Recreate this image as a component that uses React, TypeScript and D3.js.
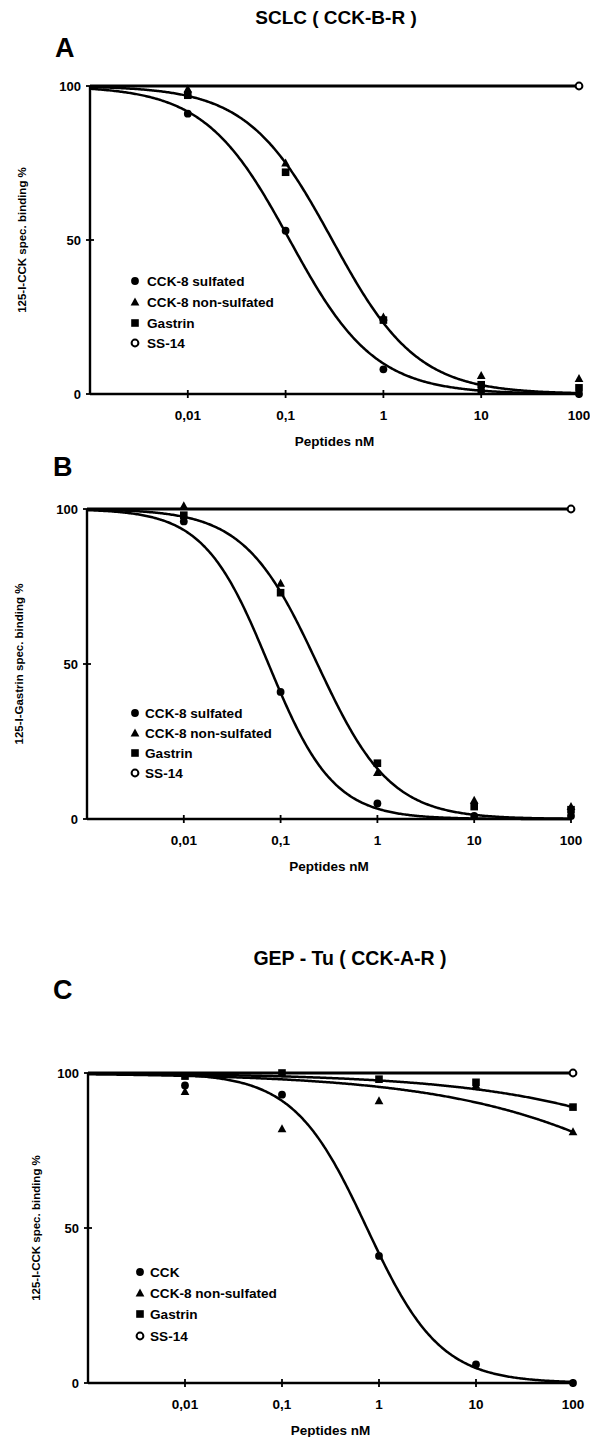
import React from "react";
import * as d3 from "d3";

// ---------- data ----------
const concentrations = [0.01, 0.1, 1, 10, 100];
const xTickValues = [0.01, 0.1, 1, 10, 100];
const xTickLabels = ["0,01", "0,1", "1", "10", "100"];
const yTickValues = [0, 50, 100];

// Panel A: SCLC (CCK-B-R)
const aCck8Sulfated = [91, 53, 8, 1, 0];
const aCck8NonSulfated = [99, 75, 25, 6, 5];
const aGastrin = [97, 72, 24, 3, 2];
const aSs14Conc = [100];
const aSs14 = [100];
// fitted curves: [IC50 nM, hill]
const aFitSulfated = [0.11, 1.0];
const aFitNonSulfated = [0.3, 1.0];

// Panel B: SCLC (CCK-B-R), 125-I-Gastrin
const bCck8Sulfated = [96, 41, 5, 1, 1];
const bCck8NonSulfated = [101, 76, 15, 6, 4];
const bGastrin = [98, 73, 18, 4, 3];
const bSs14Conc = [100];
const bSs14 = [100];
const bFitSulfated = [0.075, 1.3];
const bFitNonSulfated = [0.24, 1.15];

// Panel C: GEP-Tu (CCK-A-R)
const cCck = [96, 93, 41, 6, 0];
const cCck8NonSulfated = [94, 82, 91, 96, 81];
const cGastrin = [99, 100, 98, 97, 89];
const cSs14Conc = [100];
const cSs14 = [100];
const cFitCck = [0.75, 1.15];
const cFitNonSulfated = [6260, 0.35];
const cFitGastrin = [39200, 0.35];

const legendAB = ["CCK-8 sulfated", "CCK-8 non-sulfated", "Gastrin", "SS-14"];
const legendC = ["CCK", "CCK-8 non-sulfated", "Gastrin", "SS-14"];

const FONT = "'Liberation Sans', Arial, Helvetica, sans-serif";

type Series = { shape: string; conc: number[]; values: number[] };

function hill(x: number, fit: number[]) {
  return 100 / (1 + Math.pow(x / fit[0], fit[1]));
}

function Marker({ shape, x, y }: { shape: string; x: number; y: number }) {
  if (shape === "circle") return <circle cx={x} cy={y} r={3.9} fill="#000" />;
  if (shape === "open") return <circle cx={x} cy={y} r={3.4} fill="#fff" stroke="#000" strokeWidth={2} />;
  if (shape === "square") return <rect x={x - 3.8} y={y - 3.8} width={7.6} height={7.6} fill="#000" />;
  const s = 4.6;
  return <path d={`M${x},${y - s}L${x + s * 0.95},${y + s * 0.75}L${x - s * 0.95},${y + s * 0.75}Z`} fill="#000" />;
}

function Panel(props: {
  x0: number; x1: number; yTop: number; yBottom: number;
  yLabel: string; yLabelX: number;
  fits: number[][]; series: Series[];
  legend: string[]; legendX: number; legendTextX: number; legendRows: number[];
}) {
  const { x0, x1, yTop, yBottom } = props;
  const x = d3.scaleLog().domain([0.001, 100]).range([x0, x1]);
  const y = d3.scaleLinear().domain([0, 100]).range([yBottom, yTop]);
  const xs = d3.range(0, 401).map((i) => Math.pow(10, -3 + (5 * i) / 400));
  const curves = props.fits.map((f) =>
    d3.line<number>().x((d) => x(d)).y((d) => y(hill(d, f)))(xs) as string
  );
  const flat = d3.line<number>().x((d) => x(d)).y(() => y(100))([0.001, 100]) as string;
  const shapes = ["circle", "triangle", "square", "open"];
  const midY = (yTop + yBottom) / 2;
  return (
    <g>
      <line x1={x0} x2={x0} y1={yTop} y2={yBottom} stroke="#000" strokeWidth={2.4} />
      <line x1={x0} x2={x1} y1={yBottom} y2={yBottom} stroke="#000" strokeWidth={2.4} />
      {yTickValues.map((t) => (
        <g key={"y" + t}>
          <line x1={x0 - 4} x2={x0 + 4} y1={y(t)} y2={y(t)} stroke="#000" strokeWidth={1.8} />
          <text x={x0 - 9} y={y(t) + 4.5} textAnchor="end" fontSize={13} fontWeight="bold" fontFamily={FONT}>{t}</text>
        </g>
      ))}
      {xTickValues.map((t, i) => (
        <g key={"x" + t}>
          <line x1={x(t)} x2={x(t)} y1={yBottom - 4} y2={yBottom + 4} stroke="#000" strokeWidth={1.8} />
          <text x={x(t)} y={yBottom + 26} textAnchor="middle" fontSize={13.5} fontWeight="bold" fontFamily={FONT}>{xTickLabels[i]}</text>
        </g>
      ))}
      <text x={(x0 + x1) / 2} y={yBottom + 52} textAnchor="middle" fontSize={13.5} fontWeight="bold" fontFamily={FONT}>Peptides nM</text>
      <text transform={`translate(${props.yLabelX},${midY}) rotate(-90)`} textAnchor="middle" dy="0.35em" fontSize={11.5} fontWeight="bold" fontFamily={FONT}>{props.yLabel}</text>
      <path d={flat} stroke="#000" strokeWidth={2.8} fill="none" />
      {curves.map((c, i) => (
        <path key={"c" + i} d={c} stroke="#000" strokeWidth={2.5} fill="none" />
      ))}
      {props.series.map((s, si) =>
        s.values.map((v, i) => <Marker key={si + "-" + i} shape={s.shape} x={x(s.conc[i])} y={y(v)} />)
      )}
      {props.legend.map((name, i) => (
        <g key={"l" + i}>
          <Marker shape={shapes[i]} x={props.legendX} y={props.legendRows[i]} />
          <text x={props.legendTextX} y={props.legendRows[i] + 4.6} fontSize={13.6} fontWeight="bold" fontFamily={FONT}>{name}</text>
        </g>
      ))}
    </g>
  );
}

export default function App() {
  return (
    <div style={{ position: "absolute", left: 0, top: 0 }}>
      <svg width={590} height={1437} viewBox="0 0 590 1437" style={{ display: "block", background: "#fff" }}>
        <rect x={0} y={0} width={590} height={1437} fill="#fff" />
        <text x={336} y={24} textAnchor="middle" fontSize={19} fontWeight="bold" fontFamily={FONT}>SCLC ( CCK-B-R )</text>
        <text x={55} y={57} fontSize={27} fontWeight="bold" fontFamily={FONT}>A</text>
        <Panel
          x0={90} x1={579} yTop={86} yBottom={394}
          yLabel="125-I-CCK spec. binding %" yLabelX={22}
          fits={[aFitSulfated, aFitNonSulfated]}
          series={[
            { shape: "triangle", conc: concentrations, values: aCck8NonSulfated },
            { shape: "square", conc: concentrations, values: aGastrin },
            { shape: "circle", conc: concentrations, values: aCck8Sulfated },
            { shape: "open", conc: aSs14Conc, values: aSs14 },
          ]}
          legend={legendAB} legendX={135} legendTextX={147} legendRows={[281, 302, 323, 343]}
        />
        <text x={53} y={476} fontSize={27} fontWeight="bold" fontFamily={FONT}>B</text>
        <Panel
          x0={87} x1={571} yTop={509} yBottom={819}
          yLabel="125-I-Gastrin spec. binding %" yLabelX={19}
          fits={[bFitSulfated, bFitNonSulfated]}
          series={[
            { shape: "triangle", conc: concentrations, values: bCck8NonSulfated },
            { shape: "square", conc: concentrations, values: bGastrin },
            { shape: "circle", conc: concentrations, values: bCck8Sulfated },
            { shape: "open", conc: bSs14Conc, values: bSs14 },
          ]}
          legend={legendAB} legendX={135} legendTextX={145} legendRows={[713, 733, 753, 773]}
        />
        <text x={350} y={965} textAnchor="middle" fontSize={19.5} fontWeight="bold" fontFamily={FONT}>GEP - Tu ( CCK-A-R )</text>
        <text x={53} y={999} fontSize={27} fontWeight="bold" fontFamily={FONT}>C</text>
        <Panel
          x0={88} x1={573} yTop={1073} yBottom={1383}
          yLabel="125-I-CCK spec. binding %" yLabelX={36}
          fits={[cFitCck, cFitNonSulfated, cFitGastrin]}
          series={[
            { shape: "triangle", conc: concentrations, values: cCck8NonSulfated },
            { shape: "square", conc: concentrations, values: cGastrin },
            { shape: "circle", conc: concentrations, values: cCck },
            { shape: "open", conc: cSs14Conc, values: cSs14 },
          ]}
          legend={legendC} legendX={140} legendTextX={150} legendRows={[1272, 1293, 1314, 1336]}
        />
      </svg>
    </div>
  );
}
